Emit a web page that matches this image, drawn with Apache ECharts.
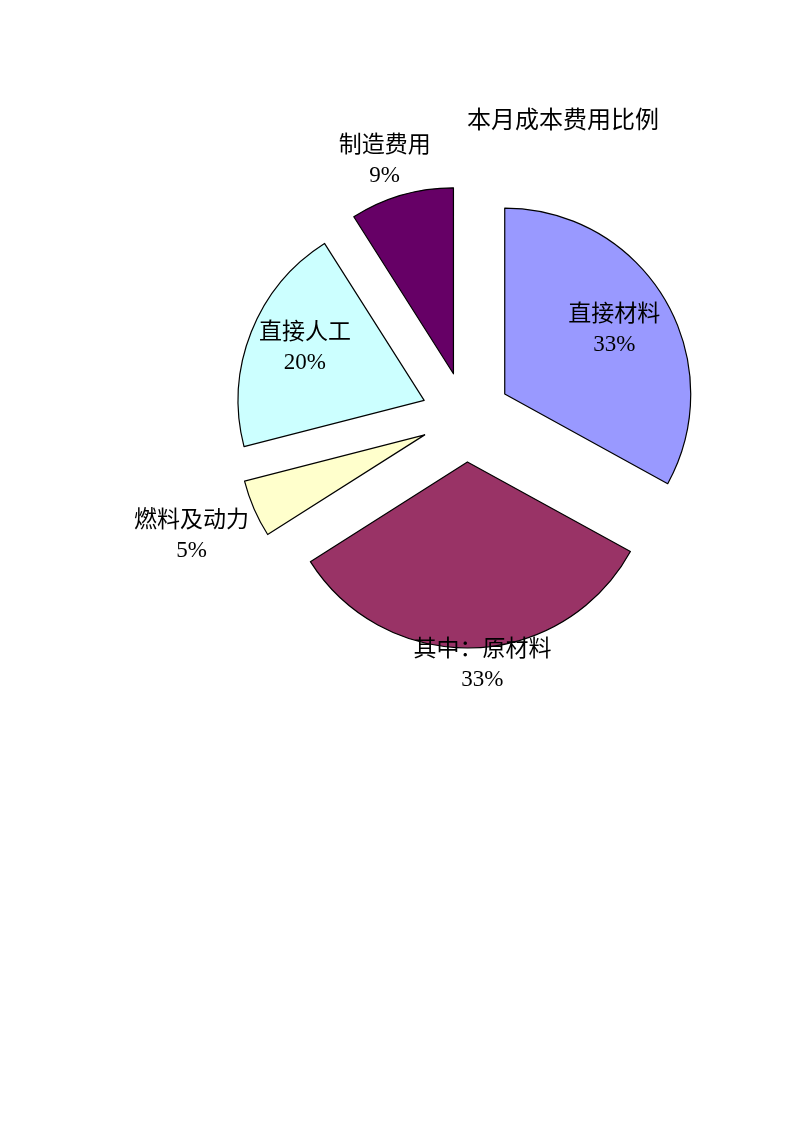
<!DOCTYPE html>
<html lang="zh">
<head>
  <meta charset="UTF-8">
  <title>本月成本费用比例</title>
  <script src="https://cdn.jsdelivr.net/npm/echarts@6/dist/echarts.min.js"></script>
  <style>
    html, body { margin: 0; padding: 0; background: #fff; }
    #main { width: 793px; height: 1122px; }
  </style>
</head>
<body>
  <div id="main"></div>
  <script>
    // 数据
    const categories = ['直接材料', '其中：原材料', '燃料及动力', '直接人工', '制造费用'];
    const values = [33, 33, 5, 20, 9];
    const colors = ['#9999FF', '#993366', '#FFFFCC', '#CCFFFF', '#660066'];

    // 标签相对默认位置的偏移（dx, dy）
    const labelShift = [[27, -15], [12, 107], [-145, 63], [-30, -17], [-42, -121]];

    const font = '"Liberation Serif", "Noto Sans CJK SC", serif';

    const chart = echarts.init(document.getElementById('main'));
    chart.setOption({
      animation: false,
      title: {
        text: '本月成本费用比例',
        left: 462,
        top: 105,
        textStyle: { fontFamily: font, fontSize: 24, fontWeight: 'normal', color: '#000' }
      },
      series: [{
        type: 'pie',
        center: [466, 417],
        radius: 186,
        startAngle: 90,
        clockwise: true,
        selectedMode: 'multiple',
        selectedOffset: 45,
        itemStyle: { borderColor: '#000', borderWidth: 1.2 },
        label: {
          position: 'inside',
          formatter: '{b}\n{d}%',
          color: '#000',
          fontFamily: font,
          fontSize: 23,
          lineHeight: 30,
          align: 'center'
        },
        labelLine: { show: false },
        labelLayout: function (p) {
          const s = labelShift[p.dataIndex];
          return { dx: s[0], dy: s[1] };
        },
        emphasis: { disabled: true },
        data: categories.map((name, i) => ({
          name: name,
          value: values[i],
          selected: true,
          itemStyle: { color: colors[i] }
        }))
      }]
    });
  </script>
</body>
</html>
